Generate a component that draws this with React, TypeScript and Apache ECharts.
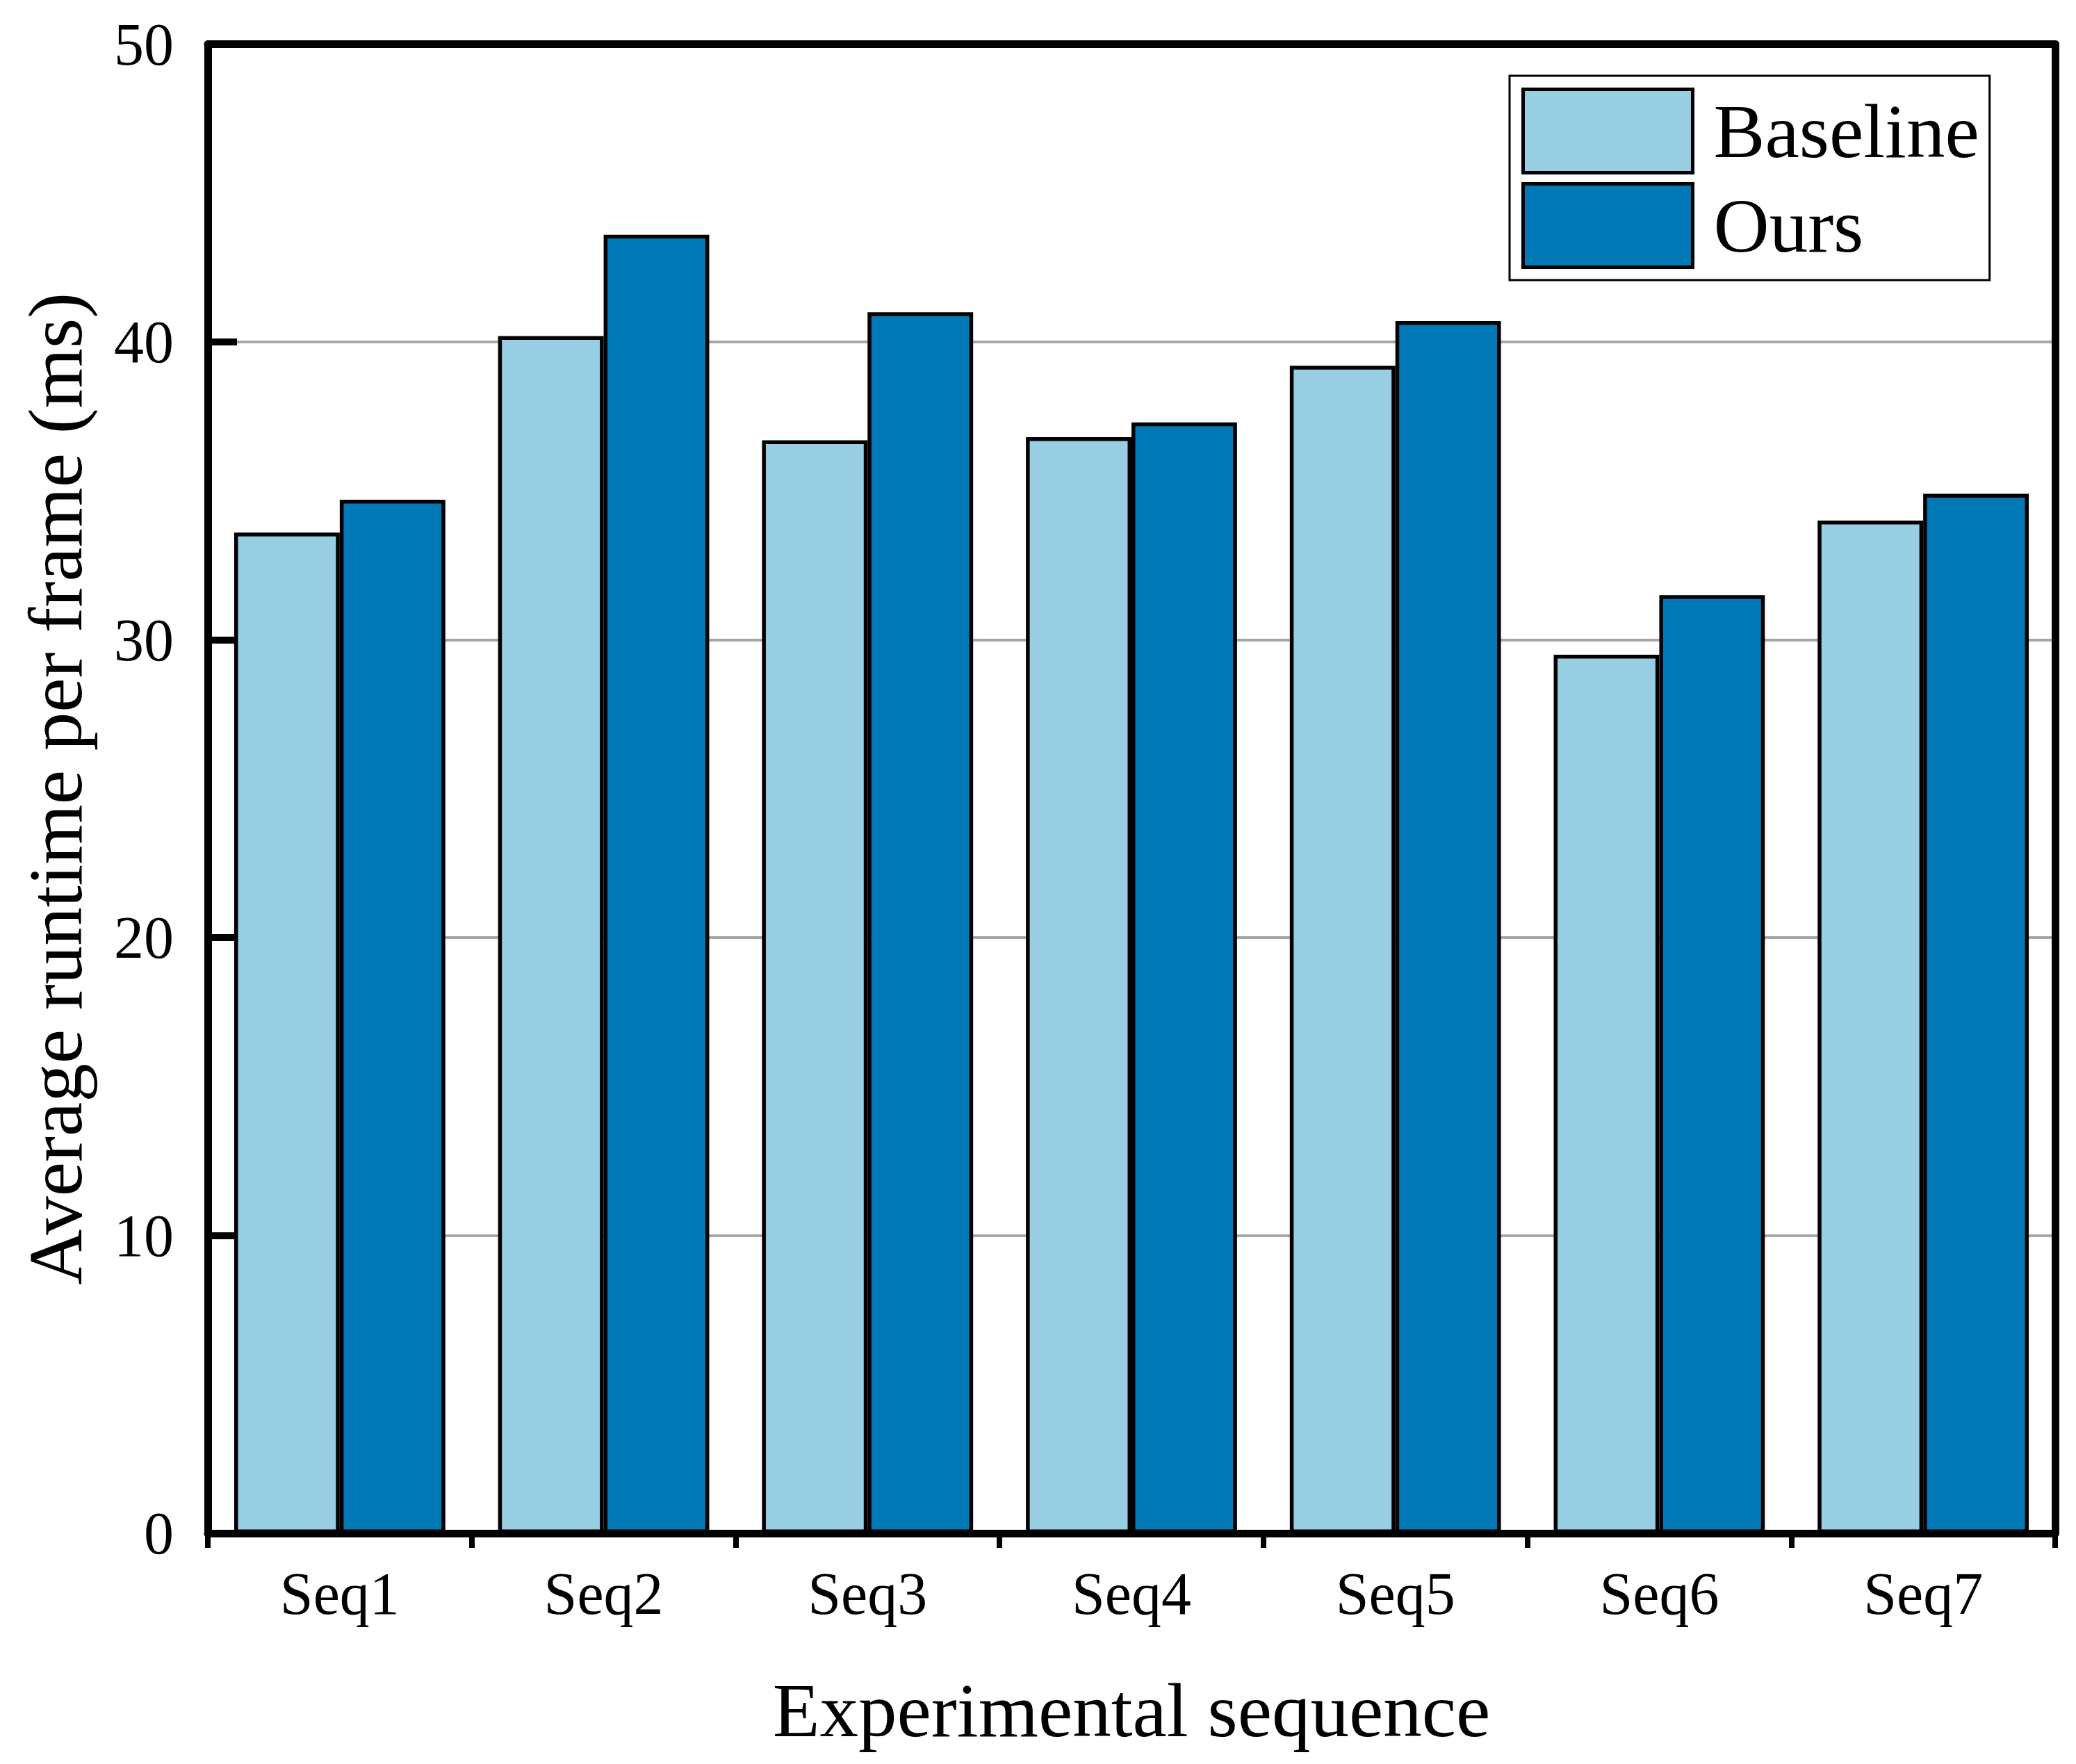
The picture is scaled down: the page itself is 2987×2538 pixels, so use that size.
import React, { useEffect, useRef } from 'react';
import * as echarts from 'echarts';

const categories = ['Seq1', 'Seq2', 'Seq3', 'Seq4', 'Seq5', 'Seq6', 'Seq7'];
const baselineValues = [33.6, 40.2, 36.7, 36.8, 39.2, 29.5, 34.0];
const oursValues = [34.7, 43.6, 41.0, 37.3, 40.7, 31.5, 34.9];
const seriesNames = ['Baseline', 'Ours'];

const FONT = '"Liberation Serif", "Times New Roman", serif';

const App: React.FC = () => {
  const chartRef = useRef<HTMLDivElement>(null);

  useEffect(() => {
    if (!chartRef.current) return;

    const chart = echarts.init(chartRef.current, null, { renderer: 'svg' });

    // plain frame lines for the top and right edges
    const frameAxis = {
      axisLine: { show: true, onZero: false, lineStyle: { color: '#000', width: 11 } },
      axisTick: { show: false },
      axisLabel: { show: false },
      splitLine: { show: false },
      z: 10
    };

    const option: echarts.EChartsOption = {
      animation: false,
      backgroundColor: '#ffffff',
      grid: {
        left: 299,
        top: 63.5,
        right: 30,
        bottom: 332
      },
      legend: {
        data: seriesNames,
        orient: 'vertical',
        left: 2172,
        top: 109,
        itemWidth: 244,
        itemHeight: 120,
        itemGap: 11,
        padding: [17, 15, 16, 17],
        borderColor: '#000',
        borderWidth: 3,
        backgroundColor: '#fff',
        icon: 'rect',
        itemStyle: { borderColor: '#000', borderWidth: 5 },
        textStyle: {
          fontFamily: FONT,
          fontSize: 111,
          color: '#000',
          padding: [0, 0, 0, 25]
        }
      },
      xAxis: [
        {
          type: 'category',
          data: categories,
          z: 10,
          name: 'Experimental sequence',
          nameLocation: 'middle',
          nameGap: 199,
          nameTextStyle: { fontFamily: FONT, fontSize: 111, color: '#000' },
          axisLine: { show: true, lineStyle: { color: '#000', width: 11 } },
          axisTick: { show: true, inside: false, length: 21, lineStyle: { color: '#000', width: 8 } },
          axisLabel: { fontFamily: FONT, fontSize: 86, color: '#000', margin: 44 },
          splitLine: { show: false }
        },
        {
          type: 'category',
          data: categories,
          position: 'top',
          ...frameAxis
        }
      ],
      yAxis: [
        {
          type: 'value',
          min: 0,
          max: 50,
          interval: 10,
          name: 'Average runtime per frame (ms)',
          nameLocation: 'middle',
          nameGap: 164,
          nameTextStyle: { fontFamily: FONT, fontSize: 111, color: '#000' },
          axisLine: { show: true, lineStyle: { color: '#000', width: 11 } },
          axisTick: { show: true, inside: true, length: 42, lineStyle: { color: '#000', width: 10 } },
          axisLabel: { fontFamily: FONT, fontSize: 86, color: '#000', margin: 49 },
          splitLine: { show: true, lineStyle: { color: '#a6a6a6', width: 4 } }
        },
        {
          type: 'value',
          min: 0,
          max: 50,
          interval: 10,
          position: 'right',
          ...frameAxis
        }
      ],
      series: [
        {
          name: seriesNames[0],
          type: 'bar',
          data: baselineValues,
          barGap: '0%',
          barCategoryGap: '20%',
          itemStyle: { color: '#97CEE4', borderColor: '#000', borderWidth: 5.5 }
        },
        {
          name: seriesNames[1],
          type: 'bar',
          data: oursValues,
          barGap: '0%',
          barCategoryGap: '20%',
          itemStyle: { color: '#0179B7', borderColor: '#000', borderWidth: 5.5 }
        }
      ]
    };

    chart.setOption(option);

    const handleResize = () => {
      chart.resize();
    };
    window.addEventListener('resize', handleResize);

    return () => {
      window.removeEventListener('resize', handleResize);
      chart.dispose();
    };
  }, []);

  return (
    <div
      ref={chartRef}
      style={{ position: 'absolute', left: 0, top: 0, width: 2987, height: 2538 }}
    />
  );
};

export default App;
